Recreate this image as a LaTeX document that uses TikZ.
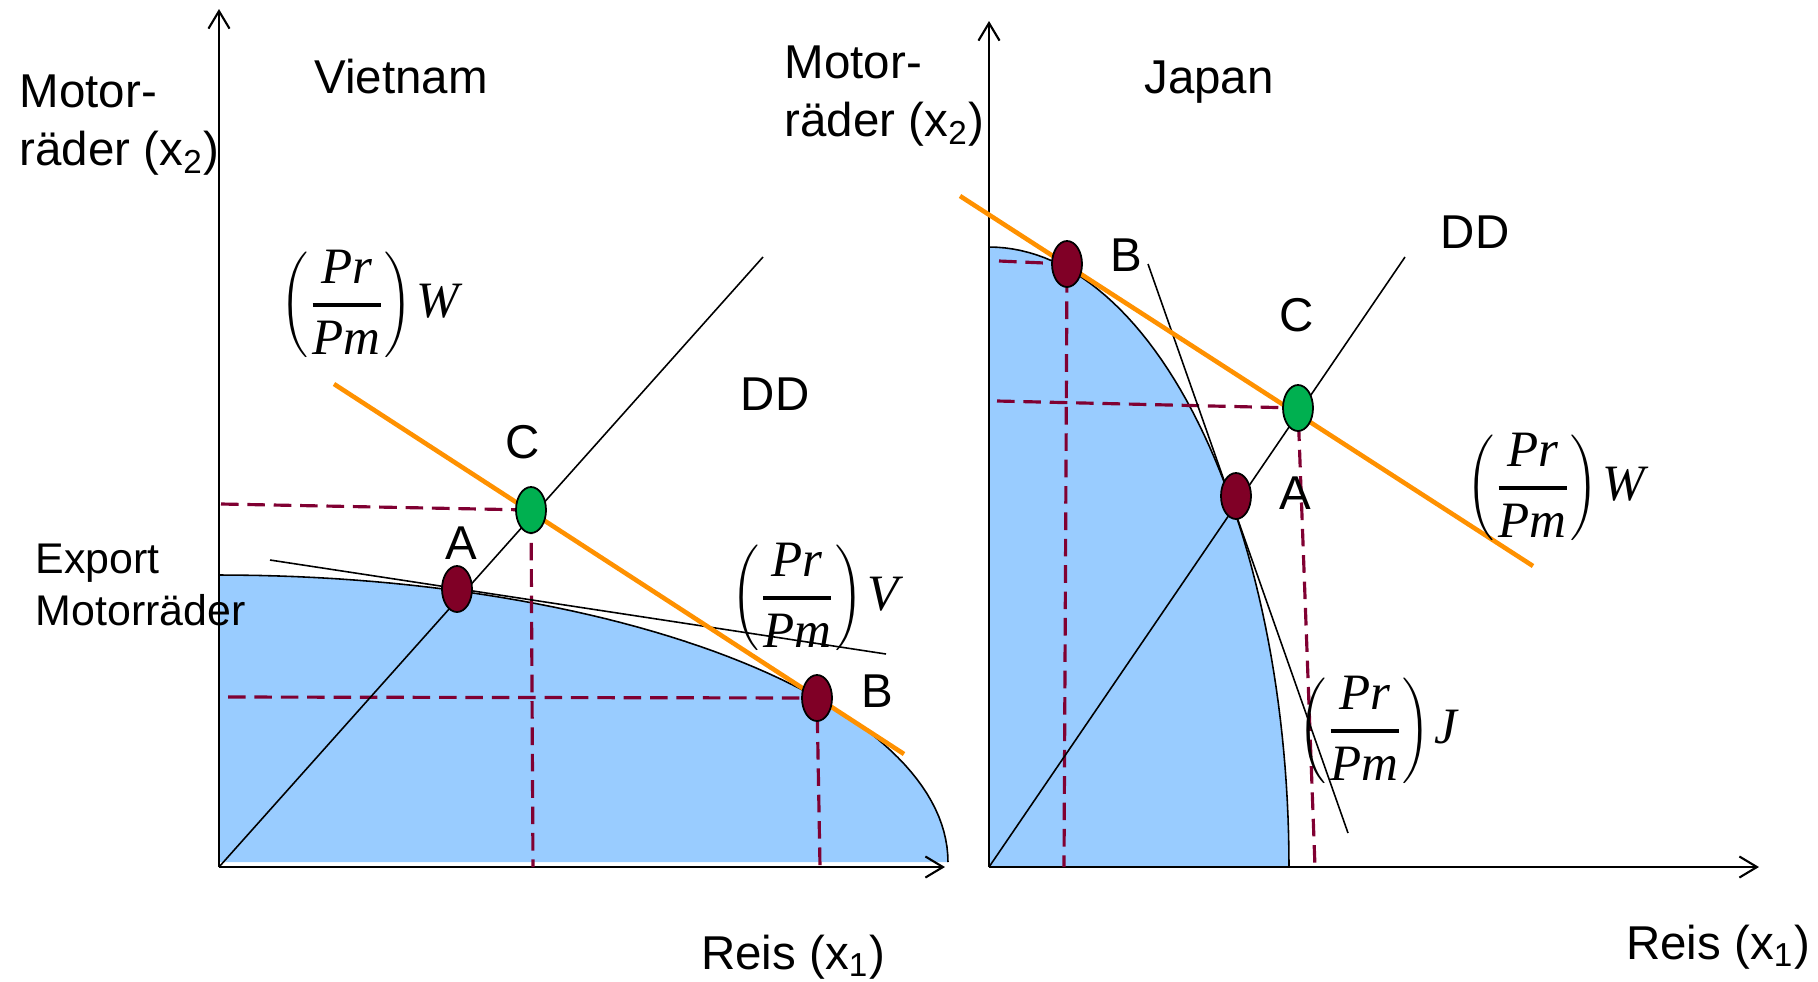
\documentclass[tikz,border=0pt]{standalone}
\usepackage{fontspec}
\setmainfont{Liberation Sans}
\newfontfamily\fracfont{Liberation Serif}
\usepackage{tikz}
\usetikzlibrary{arrows.meta, shapes.geometric, calc}
\definecolor{ppfblue}{RGB}{153,204,255}
\definecolor{dotred}{RGB}{128,0,38}
\definecolor{dotgreen}{RGB}{0,176,80}
\definecolor{budgetorange}{RGB}{255,145,0}
\definecolor{guidered}{RGB}{128,0,50}

\begin{document}
\begin{tikzpicture}[x=0.01cm, y=-0.01cm,
  axis/.style={-{Straight Barb[length=5pt, width=6pt]}, line width=0.6pt},
  thinline/.style={line width=0.45pt},
  budget/.style={budgetorange, line width=1.3pt},
  guide/.style={guidered, line width=0.9pt, dash pattern=on 5pt off 2.5pt},
  pointdot/.style={ellipse, draw, line width=0.5pt, minimum width=0.3cm, minimum height=0.46cm, inner sep=0pt},
  lbl/.style={font=\fontsize{13.5}{16.5}\selectfont, inner sep=0pt},
  mathlbl/.style={font=\fontsize{14.5}{17}\fracfont\itshape, inner sep=0pt},
]
\useasboundingbox (0,0) rectangle (1818,981);

% Points
\coordinate (VO) at (219,867);
\coordinate (VA) at (457,589);
\coordinate (VB) at (817,698);
\coordinate (VC) at (531,510);
\coordinate (JO) at (989,867);
\coordinate (JA) at (1236,496);
\coordinate (JB) at (1067,264);
\coordinate (JC) at (1298,408);

% Production possibility frontiers
\fill[ppfblue] (219,862) -- plot[domain=90:0, samples=60] ({219+729*cos(\x)},{862-287*sin(\x)}) -- cycle;
\draw[thinline] plot[domain=90:0, samples=60] ({219+729*cos(\x)},{862-287*sin(\x)});
\fill[ppfblue] (989,867) -- plot[domain=90:0, samples=60] ({989+300*cos(\x)},{867-620*sin(\x)}) -- cycle;
\draw[thinline] plot[domain=90:0, samples=60] ({989+300*cos(\x)},{867-620*sin(\x)});

% Axes
\coordinate (VYtop) at (219,9);
\coordinate (VXend) at (945,867);
\coordinate (JYtop) at (989,21);
\coordinate (JXend) at (1759,867);
\draw[axis] (VO) -- (VYtop);
\draw[axis] (VO) -- (VXend);
\draw[axis] (JO) -- (JYtop);
\draw[axis] (JO) -- (JXend);

% Dashed guides
\coordinate (VCy) at (221,504);
\coordinate (VCx) at (533,867);
\coordinate (VBy) at (228,697);
\coordinate (VBx) at (820,867);
\coordinate (JCy) at (997,401);
\coordinate (JCx) at (1315,867);
\coordinate (JBy) at (999,261);
\coordinate (JBx) at (1064,867);
\draw[guide] (VCy) -- (VC) -- (VCx);
\draw[guide] (VBy) -- (VB) -- (VBx);
\draw[guide] (JCy) -- (JC) -- (JCx);
\draw[guide] (JBy) -- (JB) -- (JBx);

% DD rays
\coordinate (VDD) at (763,257);
\coordinate (JDD) at (1405,257);
\draw[thinline] (VO) -- (VDD);
\draw[thinline] (JO) -- (JDD);

% Autarky price lines
\coordinate (VVs) at (270,560);
\coordinate (VVe) at (886,654);
\coordinate (JJs) at (1148,264);
\coordinate (JJe) at (1348,833);
\draw[thinline] (VVs) -- (VVe);
\draw[thinline] (JJs) -- (JJe);

% World price lines
\coordinate (VWs) at (334,384);
\coordinate (VWe) at (904,754);
\coordinate (JWs) at (960,196);
\coordinate (JWe) at (1533,566);
\draw[budget] (VWs) -- (VWe);
\draw[budget] (JWs) -- (JWe);

% Dots
\node[pointdot, fill=dotred] (dotVA) at (VA) {};
\node[pointdot, fill=dotred] (dotVB) at (VB) {};
\node[pointdot, fill=dotgreen] (dotVC) at (VC) {};
\node[pointdot, fill=dotred] (dotJA) at (JA) {};
\node[pointdot, fill=dotred] (dotJB) at (JB) {};
\node[pointdot, fill=dotgreen] (dotJC) at (JC) {};

% Point labels
\node[lbl] (labVA) at (461,543) {A};
\node[lbl] (labVB) at (877,691) {B};
\node[lbl] (labVC) at (523,442) {C};
\node[lbl] (labJA) at (1295,493) {A};
\node[lbl] (labJB) at (1126,255) {B};
\node[lbl] (labJC) at (1297,315) {C};

% Axis and country labels
\node[lbl, align=left, anchor=west] (vyl) at (19,125) {Motor-\\räder (x\textsubscript{2})};
\node[lbl, align=left, anchor=west] (jyl) at (784,96) {Motor-\\räder (x\textsubscript{2})};
\node[lbl] (vxl) at (793,957) {Reis (x\textsubscript{1})};
\node[lbl] (jxl) at (1718,947) {Reis (x\textsubscript{1})};
\node[lbl] (vname) at (401,77) {Vietnam};
\node[lbl] (jname) at (1209,82) {Japan};
\node[lbl] (vdd) at (775,394) {DD};
\node[lbl] (jdd) at (1475,232) {DD};
\node[inner sep=0pt, align=left, anchor=west, font=\fontsize{12.2}{14.6}\selectfont] (export) at (35,585) {Export\\Motorräder};

% Price ratio labels
\node[mathlbl] (vwp) at (370,304) {$\displaystyle\Biggl({\mbox{Pr}\above 1.3pt\mbox{Pm}}\Biggr)\mkern1.5mu\mbox{W}$};
\node[mathlbl] (vvp) at (815,597) {$\displaystyle\Biggl({\mbox{Pr}\above 1.3pt\mbox{Pm}}\Biggr)\mkern1.5mu\mbox{V}$};
\node[mathlbl] (jwp) at (1556,487) {$\displaystyle\Biggl({\mbox{Pr}\above 1.3pt\mbox{Pm}}\Biggr)\mkern1.5mu\mbox{W}$};
\node[mathlbl] (jjp) at (1378,730) {$\displaystyle\Biggl({\mbox{Pr}\above 1.3pt\mbox{Pm}}\Biggr)\mkern1.5mu\mbox{J}$};
\end{tikzpicture}
\end{document}
